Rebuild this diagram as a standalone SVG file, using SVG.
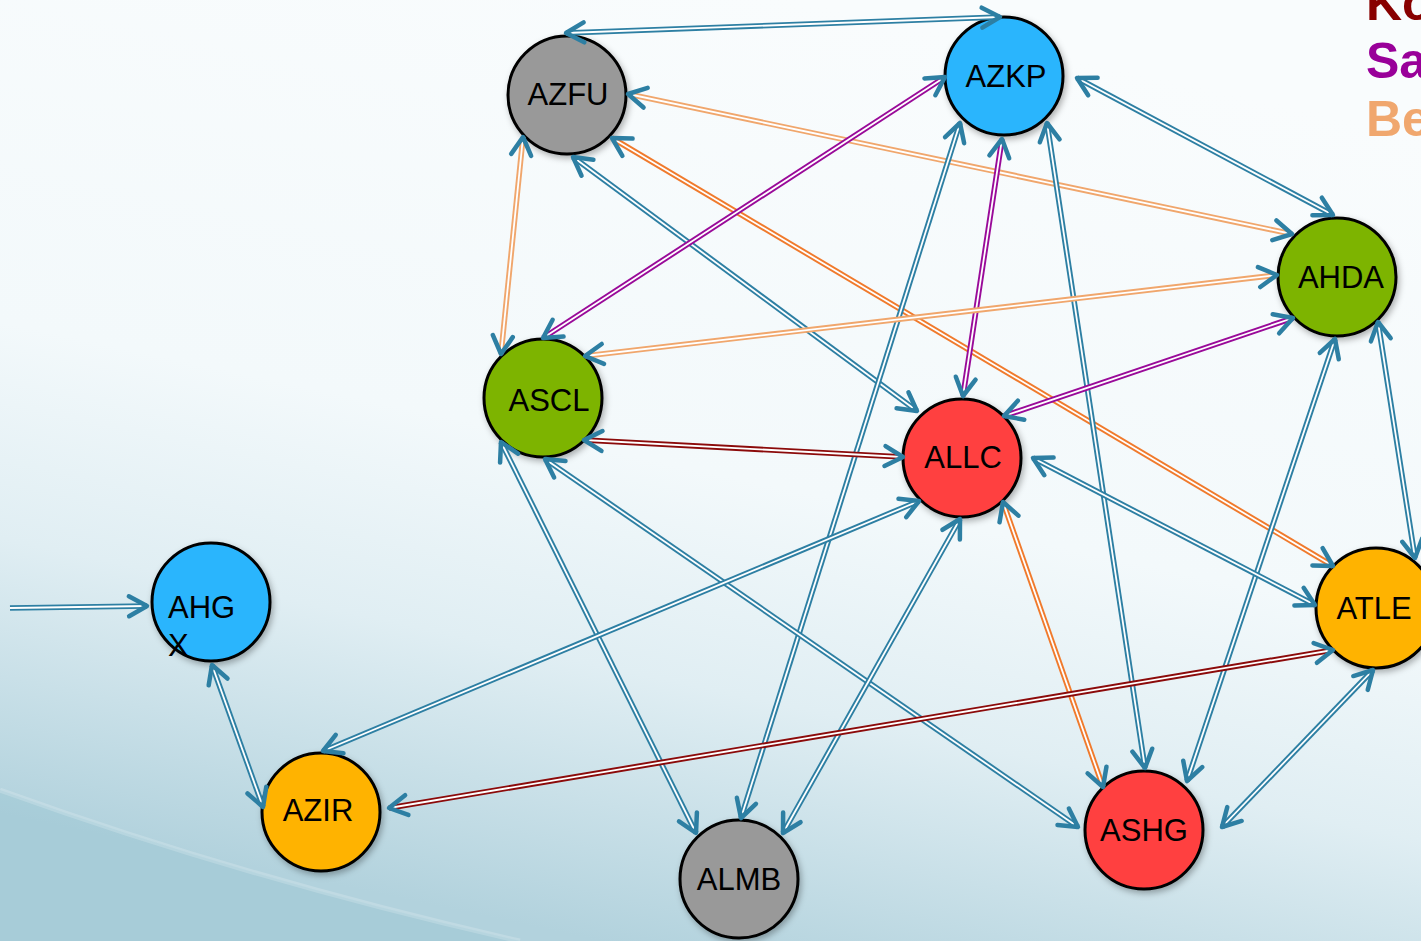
<svg xmlns="http://www.w3.org/2000/svg" width="1421" height="941" viewBox="0 0 1421 941">
<defs>
<linearGradient id="bg" gradientUnits="userSpaceOnUse" x1="800" y1="0" x2="600" y2="941">
<stop offset="0" stop-color="#f9fcfd"/>
<stop offset="0.5" stop-color="#f3f9fb"/>
<stop offset="0.72" stop-color="#e0eef3"/>
<stop offset="1" stop-color="#b2d2dd"/>
</linearGradient>
<filter id="sh" x="-20%" y="-20%" width="150%" height="150%">
<feDropShadow dx="2" dy="3" stdDeviation="3" flood-color="#000" flood-opacity="0.3"/>
</filter>
<marker id="chev" markerUnits="userSpaceOnUse" markerWidth="34" markerHeight="34" viewBox="-24 -17 34 34" refX="0" refY="0" orient="auto-start-reverse" overflow="visible">
<path d="M-18,-10 L0,0 L-18,10" fill="none" stroke="#2d7fa3" stroke-width="4.5" stroke-linecap="round" stroke-linejoin="round"/>
</marker>
</defs>
<style>
.node circle{stroke:#000;stroke-width:3;filter:url(#sh)}
.node text{font-family:"Liberation Sans",Arial,sans-serif;font-size:31px;fill:#000;text-anchor:middle}
.grey{fill:#999999}.blue{fill:#2bb5fd}.green{fill:#7db400}.red{fill:#ff4040}.amber{fill:#ffb300}
.edge path{fill:none}
.edge .ln{stroke-width:5.6}
.edge .gap{stroke:#ffffff;stroke-width:1.8;marker-start:url(#chev);marker-end:url(#chev)}
.edge .gap.one{marker-start:none}
.c-blue .ln{stroke:#2d7fa3}
.c-purple .ln{stroke:#990a99}
.c-dred .ln{stroke:#8b0a0a}
.c-lor .ln{stroke:#f0a66c}
.c-or .ln{stroke:#f07a2c}
.legend text{font-family:"Liberation Sans",Arial,sans-serif;font-size:50px;font-weight:bold}
</style>
<rect width="1421" height="941" fill="url(#bg)"/>
<path d="M0,790 Q250,880 520,941 L0,941 Z" fill="#8fbfce" opacity="0.3"/>
<path d="M0,790 Q250,880 520,941" fill="none" stroke="#ffffff" stroke-width="5" opacity="0.18"/>

<g id="legend" class="legend">
<text x="1366" y="20" fill="#880000">Ko</text>
<text x="1366" y="78" fill="#990099">Sa</text>
<text x="1366" y="136" fill="#f0a76e">Be</text>
</g>

<g id="nodes">
<g id="AZFU" class="node"><circle class="grey" cx="567" cy="95" r="59"/><text x="568" y="105">AZFU</text></g>
<g id="AZKP" class="node"><circle class="blue" cx="1004" cy="76" r="59"/><text x="1006" y="87">AZKP</text></g>
<g id="AHDA" class="node"><circle class="green" cx="1337" cy="277" r="59"/><text x="1341" y="288">AHDA</text></g>
<g id="ASCL" class="node"><circle class="green" cx="543" cy="398" r="59"/><text x="549" y="411">ASCL</text></g>
<g id="ALLC" class="node"><circle class="red" cx="962" cy="458" r="59"/><text x="963" y="468">ALLC</text></g>
<g id="ATLE" class="node"><circle class="amber" cx="1376" cy="608" r="60"/><text x="1374" y="619">ATLE</text></g>
<g id="AHGX" class="node"><circle class="blue" cx="211" cy="602" r="59"/><text x="168" y="618" style="text-anchor:start">AHG</text><text x="168" y="656" style="text-anchor:start">X</text></g>
<g id="AZIR" class="node"><circle class="amber" cx="321" cy="812" r="59"/><text x="318" y="821">AZIR</text></g>
<g id="ALMB" class="node"><circle class="grey" cx="739" cy="879" r="59"/><text x="739" y="890">ALMB</text></g>
<g id="ASHG" class="node"><circle class="red" cx="1144" cy="830" r="59"/><text x="1144" y="841">ASHG</text></g>
</g>

<g id="connectors">
<g class="edge c-blue"><path class="ln" d="M566,33 L1000,17"/><path class="gap" d="M566,33 L1000,17"/></g>
<g class="edge c-lor"><path class="ln" d="M628,94 L1292,234"/><path class="gap" d="M628,94 L1292,234"/></g>
<g class="edge c-or"><path class="ln" d="M612,138 L1333,566"/><path class="gap" d="M612,138 L1333,566"/></g>
<g class="edge c-blue"><path class="ln" d="M573,157 L917,411"/><path class="gap" d="M573,157 L917,411"/></g>
<g class="edge c-lor"><path class="ln" d="M523,137 L501,354"/><path class="gap" d="M523,137 L501,354"/></g>
<g class="edge c-purple"><path class="ln" d="M945,77 L543,338"/><path class="gap" d="M945,77 L543,338"/></g>
<g class="edge c-purple"><path class="ln" d="M1002,139 L963,396"/><path class="gap" d="M1002,139 L963,396"/></g>
<g class="edge c-blue"><path class="ln" d="M960,123 L741,818"/><path class="gap" d="M960,123 L741,818"/></g>
<g class="edge c-blue"><path class="ln" d="M1047,123 L1145,768"/><path class="gap" d="M1047,123 L1145,768"/></g>
<g class="edge c-blue"><path class="ln" d="M1077,78 L1333,215"/><path class="gap" d="M1077,78 L1333,215"/></g>
<g class="edge c-lor"><path class="ln" d="M1277,275 L585,356"/><path class="gap" d="M1277,275 L585,356"/></g>
<g class="edge c-purple"><path class="ln" d="M1293,318 L1004,416"/><path class="gap" d="M1293,318 L1004,416"/></g>
<g class="edge c-blue"><path class="ln" d="M1335,339 L1187,781"/><path class="gap" d="M1335,339 L1187,781"/></g>
<g class="edge c-blue"><path class="ln" d="M1378,322 L1415,558"/><path class="gap" d="M1378,322 L1415,558"/></g>
<g class="edge c-dred"><path class="ln" d="M584,440 L903,457"/><path class="gap" d="M584,440 L903,457"/></g>
<g class="edge c-blue"><path class="ln" d="M501,442 L696,833"/><path class="gap" d="M501,442 L696,833"/></g>
<g class="edge c-blue"><path class="ln" d="M545,459 L1078,827"/><path class="gap" d="M545,459 L1078,827"/></g>
<g class="edge c-blue"><path class="ln" d="M919,501 L323,751"/><path class="gap" d="M919,501 L323,751"/></g>
<g class="edge c-blue"><path class="ln" d="M960,519 L783,833"/><path class="gap" d="M960,519 L783,833"/></g>
<g class="edge c-or"><path class="ln" d="M1003,502 L1103,787"/><path class="gap" d="M1003,502 L1103,787"/></g>
<g class="edge c-blue"><path class="ln" d="M1033,458 L1315,605"/><path class="gap" d="M1033,458 L1315,605"/></g>
<g class="edge c-dred"><path class="ln" d="M1333,650 L389,808"/><path class="gap" d="M1333,650 L389,808"/></g>
<g class="edge c-blue"><path class="ln" d="M1373,670 L1222,827"/><path class="gap" d="M1373,670 L1222,827"/></g>
<g class="edge c-blue"><path class="ln" d="M212,665 L263,807"/><path class="gap" d="M212,665 L263,807"/></g>
<g class="edge c-blue"><path class="ln" d="M10,608 L147,606"/><path class="gap one" d="M10,608 L147,606"/></g>
</g>
</svg>
